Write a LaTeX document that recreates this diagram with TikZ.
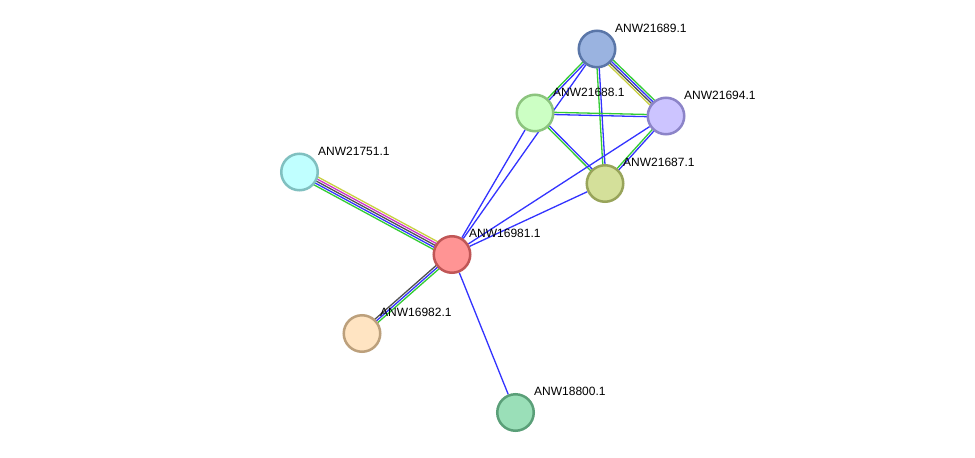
\documentclass[tikz,border=0pt]{standalone}
\usepackage{fontspec}
\setmainfont{Liberation Sans}
\usetikzlibrary{calc,backgrounds}
\definecolor{eblue}{HTML}{3333FF}
\definecolor{egreen}{HTML}{33CC33}
\definecolor{eyellow}{HTML}{C8D040}
\definecolor{emag}{HTML}{CC33CC}
\definecolor{egray}{HTML}{505050}
\tikzset{
  prot/.style={circle, minimum size=36.5pt, inner sep=0pt, line width=2.5pt},
  lbl/.style={anchor=base west, inner sep=0pt, font=\fontsize{12}{14}\selectfont},
  edge/.style={line width=1.3pt},
}
\newcommand{\edgelines}[3]{%
  \foreach \o/\c in {#3} {\draw[edge,\c] ($(#1)!\o pt!90:(#2)$) -- ($(#2)!\o pt!-90:(#1)$);}}
\begin{document}
\begin{tikzpicture}[x=1pt,y=-1pt]
\useasboundingbox (0,0) rectangle (975,458);
\node[prot, draw={rgb,255:red,90;green,118;blue,168}, fill={rgb,255:red,154;green,179;blue,224}] (n21689) at (597,49) {};
\node[prot, draw={rgb,255:red,140;green,196;blue,126}, fill={rgb,255:red,204;green,255;blue,196}] (n21688) at (535,113) {};
\node[prot, draw={rgb,255:red,140;green,132;blue,200}, fill={rgb,255:red,204;green,196;blue,255}] (n21694) at (666,116) {};
\node[prot, draw={rgb,255:red,152;green,164;blue,90}, fill={rgb,255:red,212;green,224;blue,154}] (n21687) at (605,183.5) {};
\node[prot, draw={rgb,255:red,128;green,192;blue,192}, fill={rgb,255:red,192;green,255;blue,255}] (n21751) at (299.5,172) {};
\node[prot, draw={rgb,255:red,192;green,86;blue,86}, fill={rgb,255:red,255;green,148;blue,148}] (n16981) at (452,254.5) {};
\node[prot, draw={rgb,255:red,188;green,160;blue,124}, fill={rgb,255:red,255;green,228;blue,194}] (n16982) at (362,333.5) {};
\node[prot, draw={rgb,255:red,90;green,159;blue,120}, fill={rgb,255:red,154;green,223;blue,184}] (n18800) at (515.5,412.5) {};
\begin{scope}[on background layer]
\fill[white] (0,0) rectangle (975,458);
\edgelines{n21751}{n16981}{4.4/eyellow,2.2/emag,0/egray,-2.2/eblue,-4.4/egreen}
\edgelines{n16982}{n16981}{2.2/egray,0/eblue,-2.2/egreen}
\edgelines{n21689}{n21694}{3.3/egreen,1.1/eblue,-1.1/egray,-3.3/eyellow}
\edgelines{n21688}{n21689}{1.1/egreen,-1.1/eblue}
\edgelines{n21689}{n21687}{-1.1/egreen,1.1/eblue}
\edgelines{n21688}{n21694}{1.1/egreen,-1.1/eblue}
\edgelines{n21688}{n21687}{1.1/eblue,-1.1/egreen}
\edgelines{n21694}{n21687}{1.1/eblue,-1.1/egreen}
\draw[edge,eblue] (n16981) -- (n18800);
\draw[edge,eblue] (n16981) -- (n21688);
\draw[edge,eblue] (n16981) -- (n21689);
\draw[edge,eblue] (n16981) -- (n21694);
\draw[edge,eblue] (n16981) -- (n21687);
\end{scope}
\node[lbl] (l21689) at (615,32) {ANW21689.1};
\node[lbl] (l21688) at (553,96) {ANW21688.1};
\node[lbl] (l21694) at (684,99) {ANW21694.1};
\node[lbl] (l21687) at (623,166) {ANW21687.1};
\node[lbl] (l21751) at (318,155) {ANW21751.1};
\node[lbl] (l16981) at (469,237) {ANW16981.1};
\node[lbl] (l16982) at (380,316) {ANW16982.1};
\node[lbl] (l18800) at (534,395) {ANW18800.1};
\end{tikzpicture}
\end{document}
